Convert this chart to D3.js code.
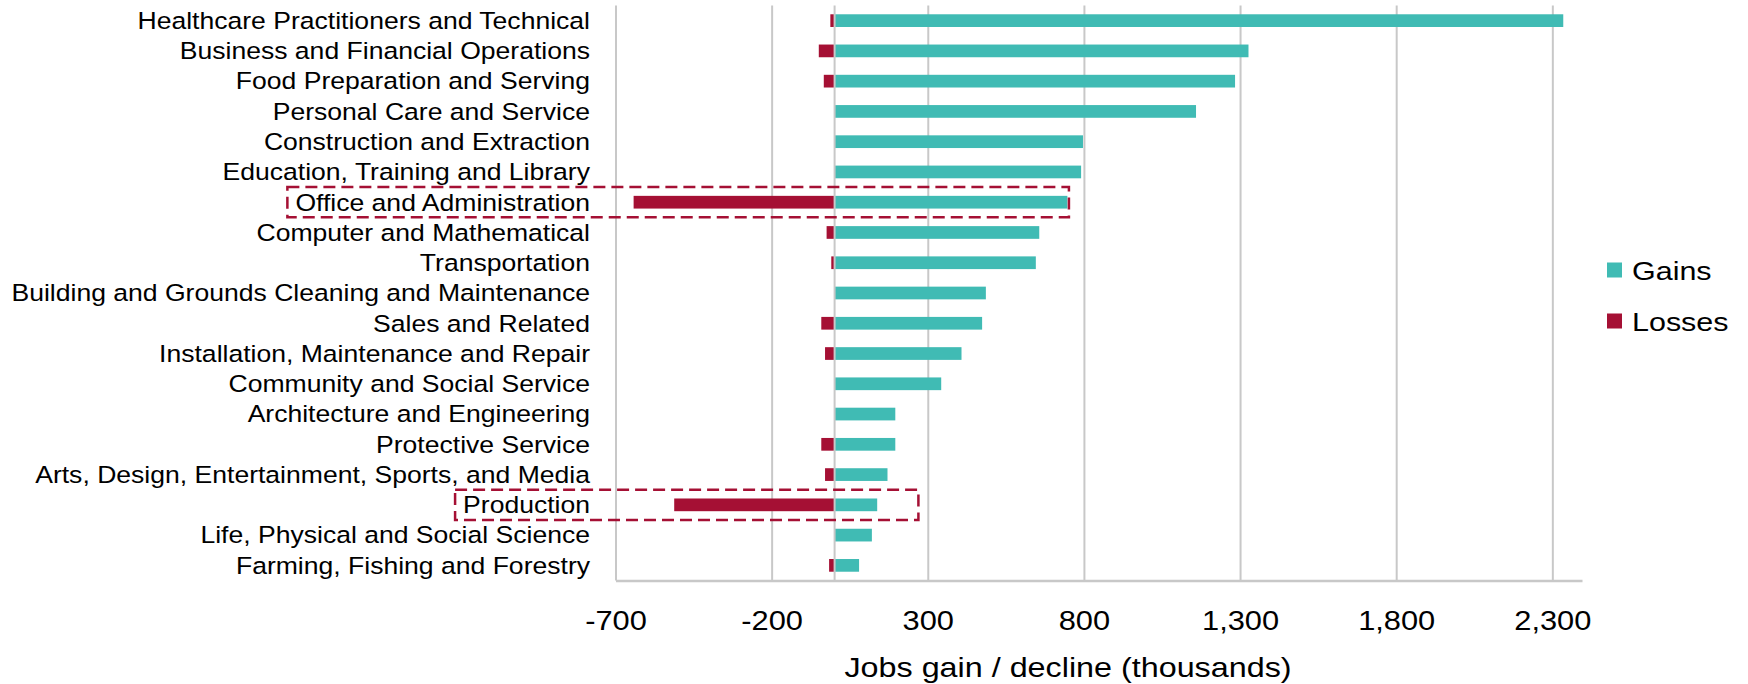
<!DOCTYPE html>
<html>
<head>
<meta charset="utf-8">
<script src="https://cdn.jsdelivr.net/npm/d3@7"></script>
<style>
  html, body { margin: 0; padding: 0; background: #ffffff; }
  svg { display: block; }
  text { font-family: "Liberation Sans", Arial, sans-serif; fill: #000; }
</style>
</head>
<body>
<svg id="chart" width="1748" height="684"></svg>
<script>
// Occupational groups, top to bottom
const categories = [
  "Healthcare Practitioners and Technical",
  "Business and Financial Operations",
  "Food Preparation and Serving",
  "Personal Care and Service",
  "Construction and Extraction",
  "Education, Training and Library",
  "Office and Administration",
  "Computer and Mathematical",
  "Transportation",
  "Building and Grounds Cleaning and Maintenance",
  "Sales and Related",
  "Installation, Maintenance and Repair",
  "Community and Social Service",
  "Architecture and Engineering",
  "Protective Service",
  "Arts, Design, Entertainment, Sports, and Media",
  "Production",
  "Life, Physical and Social Science",
  "Farming, Fishing and Forestry"
];

// Jobs gained per group (thousands)
const gains = [2335, 1327, 1284, 1159, 797, 791, 747, 657, 646, 486, 474, 408, 343, 196, 196, 171, 138, 121, 80];

// Jobs lost per group (thousands)
const losses = [-12, -49, -33, 0, 0, 0, -642, -24, -9, 0, -41, -29, 0, 0, -41, -29, -512, 0, -16];

const seriesNames = ["Gains", "Losses"];
const seriesColors = ["#40BBB4", "#A51034"];

const tickValues = [-700, -200, 300, 800, 1300, 1800, 2300];
const axisTitle = "Jobs gain / decline (thousands)";

// Groups called out with a dashed frame, and how far right (in thousands) each frame reaches
const highlightCategories = ["Office and Administration", "Production"];
const highlightReach = [752, 270];

// Horizontal stretch applied to all lettering
const SX = 1.15;

const svg = d3.select("#chart");

const x = d3.scaleLinear().domain([-700, 2395]).range([615.5, 1582]);
const y = d3.scaleBand().domain(categories).range([5.5, 580.5])
  .paddingInner(0.58).paddingOuter(0.29);

const plotTop = y.range()[0];
const plotBottom = y.range()[1];
const gridColor = "#C8C8C8";

// Vertical gridlines
const grid = svg.append("g")
  .attr("transform", `translate(0,${plotBottom})`)
  .call(d3.axisBottom(x).tickValues(tickValues)
    .tickSize(-(plotBottom - plotTop)).tickFormat(""));
grid.select(".domain").remove();
grid.selectAll(".tick line").attr("stroke", gridColor).attr("stroke-width", 2);

// Bars
const rows = categories.map((c, i) => ({ c, gain: gains[i], loss: losses[i] }));

svg.append("g").selectAll("rect")
  .data(rows.filter(d => d.gain > 0))
  .join("rect")
  .attr("x", d => x(0))
  .attr("width", d => x(d.gain) - x(0))
  .attr("y", d => y(d.c))
  .attr("height", y.bandwidth())
  .attr("fill", seriesColors[0]);

svg.append("g").selectAll("rect")
  .data(rows.filter(d => d.loss < 0))
  .join("rect")
  .attr("x", d => x(d.loss))
  .attr("width", d => x(0) - x(d.loss))
  .attr("y", d => y(d.c))
  .attr("height", y.bandwidth())
  .attr("fill", seriesColors[1]);

// Zero line
const zero = svg.append("g")
  .attr("transform", `translate(0,${plotBottom})`)
  .call(d3.axisBottom(x).tickValues([0]).tickSize(-(plotBottom - plotTop)).tickFormat(""));
zero.select(".domain").remove();
zero.selectAll(".tick line").attr("stroke", gridColor).attr("stroke-width", 2);

// Bottom axis with labels
const fmt = d3.formatLocale({ decimal: ".", thousands: ",", grouping: [3], currency: ["", ""], minus: "-" }).format(",");
const xAxis = svg.append("g")
  .attr("transform", `translate(0,${plotBottom})`)
  .call(d3.axisBottom(x).tickValues(tickValues).tickSize(0).tickSizeOuter(0).tickFormat(fmt));
xAxis.select(".domain").attr("stroke", gridColor).attr("stroke-width", 2.5);
xAxis.selectAll(".tick text")
  .attr("y", 49.5).attr("dy", null)
  .attr("transform", `scale(${SX},1)`)
  .style("font-family", '"Liberation Sans", Arial, sans-serif')
  .style("font-size", "26.8px")
  .attr("fill", "#000");

// Axis title
svg.append("text")
  .attr("transform", `translate(1068,676.5) scale(${SX},1)`)
  .attr("text-anchor", "middle")
  .style("font-size", "28.1px")
  .text(axisTitle);

// Category labels
const yAxis = svg.append("g")
  .attr("transform", "translate(590,0)")
  .call(d3.axisLeft(y).tickSize(0));
yAxis.select(".domain").remove();
yAxis.selectAll(".tick text")
  .attr("x", 0)
  .attr("dy", "0.36em")
  .attr("transform", `scale(${SX},1)`)
  .style("font-family", '"Liberation Sans", Arial, sans-serif')
  .style("font-size", "23.1px")
  .attr("fill", "#000");

// Dashed call-out frames around selected groups
const labelWidth = {};
yAxis.selectAll(".tick text").each(function (d) {
  labelWidth[d] = this.getComputedTextLength() * SX;
});
highlightCategories.forEach((c, i) => {
  const left = 590 - labelWidth[c] - 8;
  const top = y(c) + y.bandwidth() / 2 - y.step() / 2;
  svg.append("rect")
    .attr("x", left)
    .attr("y", top)
    .attr("width", x(highlightReach[i]) - left)
    .attr("height", y.step())
    .attr("fill", "none")
    .attr("stroke", seriesColors[1])
    .attr("stroke-width", 2.5)
    .attr("stroke-dasharray", "12,6");
});

// Legend
const legend = svg.append("g");
seriesNames.forEach((name, i) => {
  const ly = 262.5 + i * 51;
  legend.append("rect")
    .attr("x", 1607).attr("y", ly)
    .attr("width", 15).attr("height", 15)
    .attr("fill", seriesColors[i]);
  legend.append("text")
    .attr("transform", `translate(1632,${ly + 17}) scale(${SX},1)`)
    .style("font-size", "26.5px")
    .text(name);
});
</script>
</body>
</html>
